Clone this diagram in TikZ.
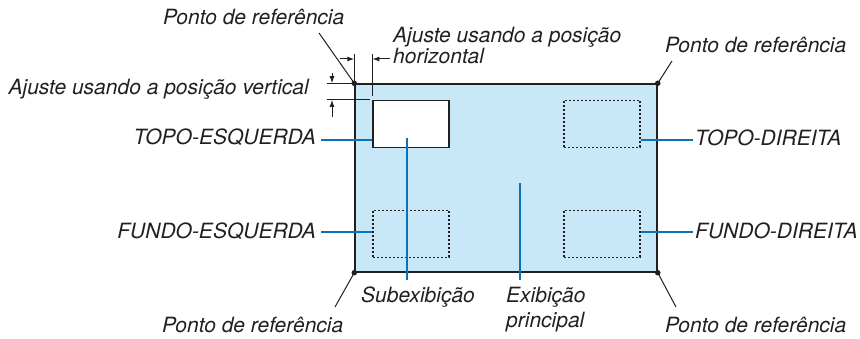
\documentclass[tikz,border=0pt]{standalone}
\usepackage{fontspec}
\setmainfont{TeX Gyre Heros}
\usepackage{tikz}
\usetikzlibrary{arrows.meta,positioning,calc}
\definecolor{ink}{HTML}{231F20}
\definecolor{screen}{HTML}{C8E8F8}
\definecolor{callout}{HTML}{0B72BA}

\begin{document}
\begin{tikzpicture}[x=1pt,y=-1pt]
    \tikzset{
      lbl/.style={font=\itshape\fontsize{21}{20}\selectfont,text=ink,inner sep=0pt},
      win/.style={draw=ink,line width=1.2pt,inner sep=0pt,minimum width=76pt,minimum height=47pt},
      ghost/.style={win,dash pattern=on 2pt off 2pt},
      pointer/.style={draw=callout,line width=2.6pt},
      thin/.style={draw=ink,line width=1pt},
      dim/.style={thin,-{Latex[length=7pt,width=5pt]}},
      corner/.style={circle,fill=ink,inner sep=0pt,minimum size=5.5pt}
    }
    \useasboundingbox (0,0) rectangle (860,339);
    % screen and windows
    \node[draw=ink,fill=screen,line width=1.5pt,inner sep=0pt,minimum width=302pt,minimum height=188pt] (main) at (506,178) {};
    \node[win,fill=white] (sub) at (411,124) {};
    \node[ghost] (tr) at (602,124) {};
    \node[ghost] (bl) at (411,234) {};
    \node[ghost] (br) at (602,234) {};
    \node[corner] (cTL) at (main.north west) {};
    \node[corner] (cTR) at (main.north east) {};
    \node[corner] (cBL) at (main.south west) {};
    \node[corner] (cBR) at (main.south east) {};
    % labels
    \node[lbl,anchor=base west] (refTL) at (163,25) {Ponto de referência};
    \node[lbl,anchor=base west] (refTR) at (665,53) {Ponto de referência};
    \node[lbl,anchor=base west] (refBL) at (162,333) {Ponto de referência};
    \node[lbl,anchor=base west] (refBR) at (665,333) {Ponto de referência};
    \node[lbl,anchor=north west,align=left] (horLbl) at (393,27) {Ajuste usando a posição\\horizontal};
    \node[lbl,anchor=base east] (vertLbl) at (309,95) {Ajuste usando a posição vertical};
    \node[lbl,anchor=base east,inner xsep=4.5pt] (tlLbl) at (320.5,145) {TOPO-ESQUERDA};
    \node[lbl,anchor=base west,inner xsep=2pt] (trLbl) at (693,145.5) {TOPO-DIREITA};
    \node[lbl,anchor=base east,inner xsep=4.5pt] (blLbl) at (320.5,238.5) {FUNDO-ESQUERDA};
    \node[lbl,anchor=base west,inner xsep=2pt] (brLbl) at (693,238.5) {FUNDO-DIREITA};
    \node[lbl,anchor=base west,inner ysep=7pt] (subLbl) at (361,303) {Subexibição};
    \node[lbl,anchor=north west,align=left,font=\itshape\fontsize{21}{25}\selectfont,inner ysep=7pt] (mainLbl) at (506,280) {Exibição\\principal};
    % leaders to reference points
    \coordinate (leadTL) at (319,33);
    \coordinate (leadTR) at (672,61);
    \coordinate (leadBL) at (335,307);
    \coordinate (leadBR) at (676,307);
    \draw[thin] (cTL.center) -- (leadTL);
    \draw[thin] (cTR.center) -- (leadTR);
    \draw[thin] (cBL.center) -- (leadBL);
    \draw[thin] (cBR.center) -- (leadBR);
    % position callouts
    \draw[pointer] ([yshift=8pt]sub.south west) -- ([yshift=8pt]sub.south west -| tlLbl.east);
    \draw[pointer] ([yshift=8pt]tr.south east) -- ([yshift=8pt]tr.south east -| trLbl.west);
    \draw[pointer] ([yshift=2pt]bl.west) -- ([yshift=2pt]bl.west -| blLbl.east);
    \draw[pointer] ([yshift=2pt]br.east) -- ([yshift=2pt]br.east -| brLbl.west);
    \coordinate (subPt) at (407,138);
    \coordinate (mainPt) at (520,183);
    \draw[pointer] (subPt) -- (subPt |- subLbl.north);
    \draw[pointer] (mainPt) -- (mainPt |- mainLbl.north);
    % horizontal offset
    \coordinate (extTop) at (0,54);
    \coordinate (hL) at (340,59);
    \coordinate (hR) at (390,59);
    \draw[thin] (main.north west) -- (main.north west |- extTop);
    \draw[thin] ([yshift=4pt]sub.north west) -- (sub.north west |- extTop);
    \draw[dim] (hL) -- (hL -| main.west);
    \draw[dim] (hR) -- (hR -| sub.west);
    % vertical offset
    \coordinate (extL) at (327,0);
    \coordinate (vT) at (332,73);
    \coordinate (vB) at (332,117);
    \draw[thin] (main.north west) -- (main.north west -| extL);
    \draw[thin] ([xshift=-2pt]sub.north west) -- (sub.north west -| extL);
    \draw[dim] (vT) -- (vT |- main.north);
    \draw[dim] (vB) -- (vB |- sub.north);
  \end{tikzpicture}
\end{document}
